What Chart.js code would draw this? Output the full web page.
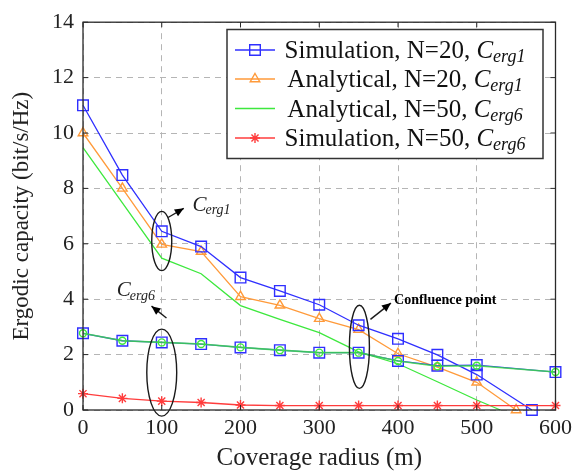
<!DOCTYPE html>
<html>
<head>
<meta charset="utf-8">
<script src="https://cdn.jsdelivr.net/npm/chart.js@4.4.1/dist/chart.umd.min.js"></script>
<style>
  html, body { margin: 0; padding: 0; background: #ffffff; }
  #wrap { width: 577px; height: 473px; }
</style>
</head>
<body>
<div id="wrap"><canvas id="c" width="577" height="473"></canvas></div>
<script>
// ---------- data ----------
const xTicks = [0, 100, 200, 300, 400, 500, 600];
const yTicks = [0, 2, 4, 6, 8, 10, 12, 14];

// Upper group (C_erg1)
const simN20Cerg1X = [0, 50, 100, 150, 200, 250, 300, 350, 400, 450, 500, 570];
const simN20Cerg1Y = [11, 8.48, 6.45, 5.9, 4.78, 4.3, 3.8, 3.06, 2.57, 1.99, 1.28, 0];

const anaN20Cerg1X = [0, 50, 100, 150, 200, 250, 300, 350, 400, 450, 500, 550];
const anaN20Cerg1Y = [10, 8.0, 5.98, 5.72, 4.09, 3.78, 3.3, 2.9, 2.03, 1.55, 1.0, 0];

const anaN50Cerg1X = [0, 50, 100, 150, 200, 250, 300, 350, 400, 450, 500, 530];
const anaN50Cerg1Y = [9.47, 7.48, 5.48, 4.92, 3.77, 3.27, 2.79, 2.1, 1.67, 1.02, 0.36, 0];

// Lower group (C_erg6)
const cerg6X = [0, 50, 100, 150, 200, 250, 300, 350, 400, 450, 500, 600];
const simCerg6Y = [2.77, 2.5, 2.44, 2.38, 2.26, 2.16, 2.07, 2.07, 1.77, 1.6, 1.62, 1.37];
const anaCerg6Y = [2.77, 2.5, 2.44, 2.38, 2.26, 2.16, 2.07, 2.07, 1.77, 1.58, 1.6, 1.37];

const simN50Cerg6X = [0, 50, 100, 150, 200, 250, 300, 350, 400, 450, 500, 600];
const simN50Cerg6Y = [0.59, 0.42, 0.32, 0.27, 0.18, 0.16, 0.16, 0.16, 0.16, 0.16, 0.16, 0.16];

const legendMain = ['Simulation, N=20, ', 'Analytical, N=20, ', 'Analytical, N=50, ', 'Simulation, N=50, '];
const legendSub = ['erg1', 'erg1', 'erg6', 'erg6'];

// ---------- styles ----------
const BLUE = '#2f2fff';
const ORANGE = '#ff9a3a';
const GREEN = '#3de83d';
const RED = '#ff3c3c';
const SERIF = '"Liberation Serif", "DejaVu Serif", serif';

function pts(xs, ys) { return xs.map((x, i) => ({ x: x, y: ys[i] })); }

const datasets = [
  { data: pts(simN50Cerg6X, simN50Cerg6Y), borderColor: RED, pointStyle: 'star', pointRadius: 5, pointBorderColor: RED, borderWidth: 1.3 },
  { data: pts(cerg6X, anaCerg6Y), borderColor: 'rgba(60,225,60,0.8)', pointStyle: 'circle', pointRadius: 3.5, pointBorderColor: GREEN, borderWidth: 1.6 },
  { data: pts(cerg6X, simCerg6Y), borderColor: BLUE, pointStyle: 'rect', pointRadius: 7.5, pointBorderColor: BLUE, borderWidth: 1.3 },
  { data: pts(simN20Cerg1X, simN20Cerg1Y), borderColor: BLUE, pointStyle: 'rect', pointRadius: 7.5, pointBorderColor: BLUE, borderWidth: 1.3 },
  { data: pts(anaN20Cerg1X, anaN20Cerg1Y), borderColor: ORANGE, pointStyle: 'triangle', pointRadius: 5.5, pointBorderColor: ORANGE, borderWidth: 1.3 },
  { data: pts(anaN50Cerg1X, anaN50Cerg1Y), borderColor: GREEN, pointRadius: 0, borderWidth: 1.3 }
].map(d => Object.assign({
  backgroundColor: 'rgba(0,0,0,0)',
  pointBackgroundColor: 'rgba(0,0,0,0)',
  pointBorderWidth: 1.4,
  fill: false,
  tension: 0,
  clip: false
}, d));

// ---------- plugins ----------
const framePlugin = {
  id: 'frame',
  afterDatasetsDraw(chart) {
    const { ctx, chartArea: a, scales } = chart;
    ctx.save();
    // frame
    ctx.strokeStyle = '#2a2a2a';
    ctx.lineWidth = 1.3;
    ctx.strokeRect(a.left, a.top, a.right - a.left, a.bottom - a.top);
    // inward ticks
    ctx.lineWidth = 1;
    const tl = 5;
    xTicks.forEach(v => {
      const x = scales.x.getPixelForValue(v);
      ctx.beginPath();
      ctx.moveTo(x, a.bottom); ctx.lineTo(x, a.bottom - tl);
      ctx.moveTo(x, a.top); ctx.lineTo(x, a.top + tl);
      ctx.stroke();
    });
    yTicks.forEach(v => {
      const y = scales.y.getPixelForValue(v);
      ctx.beginPath();
      ctx.moveTo(a.left, y); ctx.lineTo(a.left + tl, y);
      ctx.moveTo(a.right, y); ctx.lineTo(a.right - tl, y);
      ctx.stroke();
    });

    // annotations (placed in data space)
    const X = v => scales.x.getPixelForValue(v);
    const Y = v => scales.y.getPixelForValue(v);
    const sx = scales.x.getPixelForValue(1) - scales.x.getPixelForValue(0);
    const sy = scales.y.getPixelForValue(0) - scales.y.getPixelForValue(1);
    ctx.strokeStyle = '#1a1a1a';
    ctx.lineWidth = 1.4;
    function ellipse(cx, cy, rx, ry) {
      ctx.beginPath();
      ctx.ellipse(X(cx), Y(cy), rx * sx, ry * sy, 0, 0, Math.PI * 2);
      ctx.stroke();
    }
    function arrow(x1, y1, x2, y2) {
      const px1 = X(x1), py1 = Y(y1), px2 = X(x2), py2 = Y(y2);
      ctx.beginPath();
      ctx.moveTo(px1, py1); ctx.lineTo(px2, py2);
      ctx.stroke();
      const ang = Math.atan2(py2 - py1, px2 - px1);
      const L = 9, W = 4;
      ctx.beginPath();
      ctx.moveTo(px2, py2);
      ctx.lineTo(px2 - L * Math.cos(ang) + W * Math.sin(ang), py2 - L * Math.sin(ang) - W * Math.cos(ang));
      ctx.lineTo(px2 - L * Math.cos(ang) - W * Math.sin(ang), py2 - L * Math.sin(ang) + W * Math.cos(ang));
      ctx.closePath();
      ctx.fillStyle = '#000';
      ctx.fill();
    }
    function cLabel(x, y, sub, size) {
      ctx.fillStyle = '#222';
      ctx.textAlign = 'left';
      ctx.textBaseline = 'alphabetic';
      ctx.font = 'italic ' + size + 'px ' + SERIF;
      ctx.fillText('C', X(x), Y(y));
      const w = ctx.measureText('C').width;
      ctx.font = 'italic ' + Math.round(size * 0.68) + 'px ' + SERIF;
      ctx.fillText(sub, X(x) + w - 1, Y(y) + size * 0.15);
    }
    // C_erg1
    ellipse(100, 6.1, 12.7, 1.07);
    arrow(108, 6.95, 128, 7.28);
    cLabel(139, 7.18, 'erg1', 21);
    // C_erg6
    ellipse(100, 1.35, 19, 1.57);
    arrow(106, 3.32, 87, 3.75);
    cLabel(43, 4.1, 'erg6', 21);
    // Confluence point
    ellipse(351, 2.28, 12.7, 1.5);
    arrow(365, 3.27, 391, 3.86);
    ctx.fillStyle = '#000';
    ctx.font = 'bold 14px ' + SERIF;
    ctx.textAlign = 'left';
    ctx.textBaseline = 'alphabetic';
    ctx.fillText('Confluence point', X(395), Y(3.82));

    // legend
    const bx = 227, by = 29.5, bw = 316, bh = 129;
    ctx.fillStyle = '#fff';
    ctx.fillRect(bx, by, bw, bh);
    ctx.strokeStyle = '#333';
    ctx.lineWidth = 1.5;
    ctx.strokeRect(bx, by, bw, bh);
    const rowY = [50, 79, 108.5, 138];
    const styles = [datasets[3], datasets[4], datasets[5], datasets[0]];
    styles.forEach((ds, i) => {
      const y = rowY[i];
      ctx.strokeStyle = ds.borderColor;
      ctx.lineWidth = 1.5;
      ctx.beginPath();
      ctx.moveTo(bx + 8, y); ctx.lineTo(bx + 48, y);
      ctx.stroke();
      if (ds.pointRadius > 0) {
        ctx.strokeStyle = ds.pointBorderColor;
        ctx.fillStyle = 'rgba(0,0,0,0)';
        ctx.lineWidth = ds.pointBorderWidth;
        Chart.helpers.drawPoint(ctx, {
          pointStyle: ds.pointStyle, radius: ds.pointRadius, borderWidth: ds.pointBorderWidth, rotation: 0
        }, bx + 28, y);
      }
      // text
      const mainFont = '25px ' + SERIF;
      const cFont = 'italic 25px ' + SERIF;
      const sFont = 'italic 18px ' + SERIF;
      ctx.font = mainFont; const w1 = ctx.measureText(legendMain[i]).width;
      ctx.font = cFont; const w2 = ctx.measureText('C').width;
      ctx.font = sFont; const w3 = ctx.measureText(legendSub[i]).width;
      const total = w1 + w2 + w3;
      let tx = 405 - total / 2;
      const base = y + 8;
      ctx.fillStyle = '#111';
      ctx.textAlign = 'left';
      ctx.textBaseline = 'alphabetic';
      ctx.font = mainFont; ctx.fillText(legendMain[i], tx, base); tx += w1;
      ctx.font = cFont; ctx.fillText('C', tx, base); tx += w2;
      ctx.font = sFont; ctx.fillText(legendSub[i], tx, base + 4);
    });
    ctx.restore();
  }
};

new Chart(document.getElementById('c'), {
  type: 'line',
  data: { datasets: datasets },
  plugins: [framePlugin],
  options: {
    responsive: false,
    devicePixelRatio: 1,
    animation: false,
    events: [],
    layout: { padding: { top: 16, right: 20, left: 0, bottom: 0 } },
    plugins: { legend: { display: false }, tooltip: { enabled: false } },
    scales: {
      x: {
        type: 'linear', min: 0, max: 600,
        afterBuildTicks: s => { s.ticks = xTicks.map(v => ({ value: v })); },
        afterFit: s => { s.height = 63; },
        ticks: { font: { family: SERIF, size: 22 }, color: '#222', padding: 5, maxRotation: 0 },
        grid: { color: '#b5b5b5', lineWidth: 1, drawTicks: false },
        border: { display: false, dash: [6, 5] },
        title: { display: true, text: 'Coverage radius (m)', font: { family: SERIF, size: 25 }, color: '#222', padding: { top: 0, bottom: 0 } }
      },
      y: {
        type: 'linear', min: 0, max: 14,
        afterBuildTicks: s => { s.ticks = yTicks.map(v => ({ value: v })); },
        afterFit: s => { s.width = 83; },
        ticks: { font: { family: SERIF, size: 22 }, color: '#222', padding: 9 },
        grid: { color: '#b5b5b5', lineWidth: 1, drawTicks: false },
        border: { display: false, dash: [6, 5] },
        title: { display: true, text: 'Ergodic capacity (bit/s/Hz)', font: { family: SERIF, size: 23 }, color: '#222', padding: { top: 8, bottom: 0 } }
      }
    }
  }
});
</script>
</body>
</html>
